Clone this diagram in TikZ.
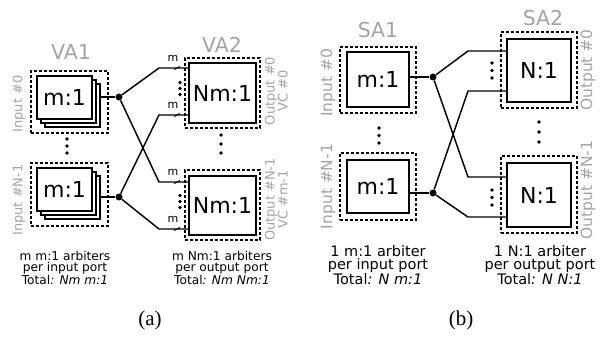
\documentclass[tikz,border=0pt]{standalone}
\usepackage{fontspec}
\setmainfont{DejaVu Sans}
\newfontfamily\capfont{Liberation Serif}
\definecolor{labgray}{HTML}{A3A3A3}
\begin{document}
\begin{tikzpicture}[x=1pt,y=-1pt,
  abox/.style={draw, line width=1.4pt, fill=white, inner sep=0pt},
  dbox/.style={draw, line width=1.3pt, dash pattern=on 3pt off 2pt, inner sep=0pt},
  glab/.style={text=labgray, inner sep=0pt},
  wire/.style={line width=1.45pt},
  jdot/.style={circle, fill=black, inner sep=0pt, minimum size=7pt},
  sdot/.style={circle, fill=black, inner sep=0pt, minimum size=3.8pt},
  big/.style={font=\fontsize{22}{22}\selectfont},
  title/.style={glab, font=\fontsize{20.5}{20.5}\selectfont},
  rlaba/.style={glab, rotate=90, align=center, font=\fontsize{13}{13}\selectfont},
  rlabb/.style={glab, rotate=90, align=center, font=\fontsize{15.5}{15.5}\selectfont},
  capa/.style={align=center, inner sep=0pt, font=\fontsize{12.2}{11}\selectfont},
  capb/.style={align=center, inner sep=0pt, font=\fontsize{14.5}{13}\selectfont},
  mlab/.style={inner sep=0pt, font=\fontsize{11}{11}\selectfont},
  sub/.style={inner sep=0pt, font=\capfont\fontsize{21}{21}\selectfont}
]
\useasboundingbox (0,0) rectangle (610,339);

% ================= (a) =================
\node[title] (va1) at (71,52) {VA1};
\node[title] (va2) at (222,45) {VA2};

% VA1 top
\node[dbox, minimum width=77pt, minimum height=62pt] (d1) at (69.5,102) {};
\node[abox, minimum width=55pt, minimum height=43pt] (a1c) at (72.5,105.5) {};
\node[abox, minimum width=55pt, minimum height=43pt] (a1b) at (68.5,101.5) {};
\node[abox, minimum width=55pt, minimum height=43pt, big] (a1) at (64.5,97.5) {m:1};
% VA1 bottom
\node[dbox, minimum width=77pt, minimum height=63pt] (d2) at (69.5,194.5) {};
\node[abox, minimum width=55pt, minimum height=43pt] (a2c) at (72.5,197.5) {};
\node[abox, minimum width=55pt, minimum height=43pt] (a2b) at (68.5,193.5) {};
\node[abox, minimum width=55pt, minimum height=43pt, big] (a2) at (64.5,189.5) {m:1};

\node[rlaba] (il1) at (19,104) {Input \#0};
\node[rlaba] (il2) at (19,200) {Input \#N-1};

\foreach \i/\yy in {1/139,2/146,3/153} \node[sdot] (va\i) at (67,\yy) {};

% junctions
\node[jdot] (j1) at (119,97) {};
\node[jdot] (j2) at (119,197) {};
\draw[wire] (a1c.east |- j1) -- (j1);
\draw[wire] (a2c.east |- j2) -- (j2);

% VA2 boxes
\node[dbox, minimum width=75pt, minimum height=70pt] (d3) at (222.5,93) {};
\node[abox, minimum width=67pt, minimum height=60pt, big] (n1) at (222.5,93) {Nm:1};
\node[dbox, minimum width=75pt, minimum height=70pt] (d4) at (222.5,205) {};
\node[abox, minimum width=67pt, minimum height=59pt, big] (n2) at (222.5,205.5) {Nm:1};

\node[rlaba] (ol1) at (276.5,91) {Output \#0\\VC \#0};
\node[rlaba] (ol2) at (276.5,199.5) {Output \#N-1\\VC \#m-1};

\foreach \i/\yy in {1/135,2/144,3/153} \node[sdot] (vb\i) at (221,\yy) {};
\foreach \i/\yy in {1/82.5,2/88.5,3/94.5} \node[sdot] (vc\i) at (180,\yy) {};
\foreach \i/\yy in {1/195.5,2/201.5,3/207.5} \node[sdot] (vd\i) at (180,\yy) {};

% VA2 inputs
\coordinate (p1) at (159,68);
\coordinate (p2) at (159,115);
\coordinate (p3) at (159,182);
\coordinate (p4) at (159,229);
\draw[wire] (j1) -- (p1) -- (p1 -| n1.west);
\draw[wire] (j1) -- (p3) -- (p3 -| n2.west);
\draw[wire] (j2) -- (p2) -- (p2 -| n1.west);
\draw[wire] (j2) -- (p4) -- (p4 -| n2.west);
\foreach \yy/\k in {68/1,115/2,182/3,229/4} {
  \draw[line width=0.9pt] (174,\yy+1.7) -- (180,\yy-1.7);
  \node[mlab] (m\k) at (173,\yy-10) {m};
}

\node[capa] (ca1) at (65,268) {m m:1 arbiters\\per input port\\Total\textit{: Nm m:1}};
\node[capa] (ca2) at (222,268) {m Nm:1 arbiters\\per output port\\Total\textit{: Nm Nm:1}};
\node[sub] (la) at (150,320) {(a)};

% ================= (b) =================
\node[title] (sa1) at (378,30) {SA1};
\node[title] (sa2) at (543,18) {SA2};

\node[dbox, minimum width=76pt, minimum height=66pt] (e1) at (378,80) {};
\node[abox, minimum width=62pt, minimum height=55pt, big] (s1) at (378,79.5) {m:1};
\node[dbox, minimum width=76pt, minimum height=67pt] (e2) at (378,186.5) {};
\node[abox, minimum width=62pt, minimum height=53pt, big] (s2) at (378,186.5) {m:1};

\node[rlabb] (il3) at (328,83) {Input \#0};
\node[rlabb] (il4) at (328,186.5) {Input \#N-1};

\foreach \i/\yy in {1/128,2/135.5,3/143} \node[sdot] (sa\i) at (379,\yy) {};

\node[jdot] (j3) at (433,77) {};
\node[jdot] (j4) at (433,193) {};
\draw[wire] (s1.east |- j3) -- (j3);
\draw[wire] (s2.east |- j4) -- (j4);

\node[dbox, minimum width=76pt, minimum height=76pt] (e3) at (539,70) {};
\node[abox, minimum width=64pt, minimum height=63pt, big] (t1) at (539,70.5) {N:1};
\node[dbox, minimum width=76pt, minimum height=77pt] (e4) at (539,194.5) {};
\node[abox, minimum width=64pt, minimum height=64pt, big] (t2) at (539,195) {N:1};

\node[rlabb] (ol3) at (588,70) {Output \#0};
\node[rlabb] (ol4) at (588,190) {Output \#N-1};

\foreach \i/\yy in {1/122,2/132,3/142} \node[sdot] (sb\i) at (539,\yy) {};
\foreach \i/\yy in {1/63,2/70.5,3/78} \node[sdot] (sc\i) at (492,\yy) {};
\foreach \i/\yy in {1/190,2/197.5,3/205} \node[sdot] (sd\i) at (492,\yy) {};

\coordinate (q1) at (468,51);
\coordinate (q2) at (468,91);
\coordinate (q3) at (468,177);
\coordinate (q4) at (468,217);
\draw[wire] (j3) -- (q1) -- (q1 -| t1.west);
\draw[wire] (j3) -- (q3) -- (q3 -| t2.west);
\draw[wire] (j4) -- (q2) -- (q2 -| t1.west);
\draw[wire] (j4) -- (q4) -- (q4 -| t2.west);

\node[capb] (cb1) at (378,265) {1 m:1 arbiter\\per input port\\Total\textit{: N m:1}};
\node[capb] (cb2) at (540,265) {1 N:1 arbiter\\per output port\\Total\textit{: N N:1}};
\node[sub] (lb) at (461,320) {(b)};
\end{tikzpicture}
\end{document}
